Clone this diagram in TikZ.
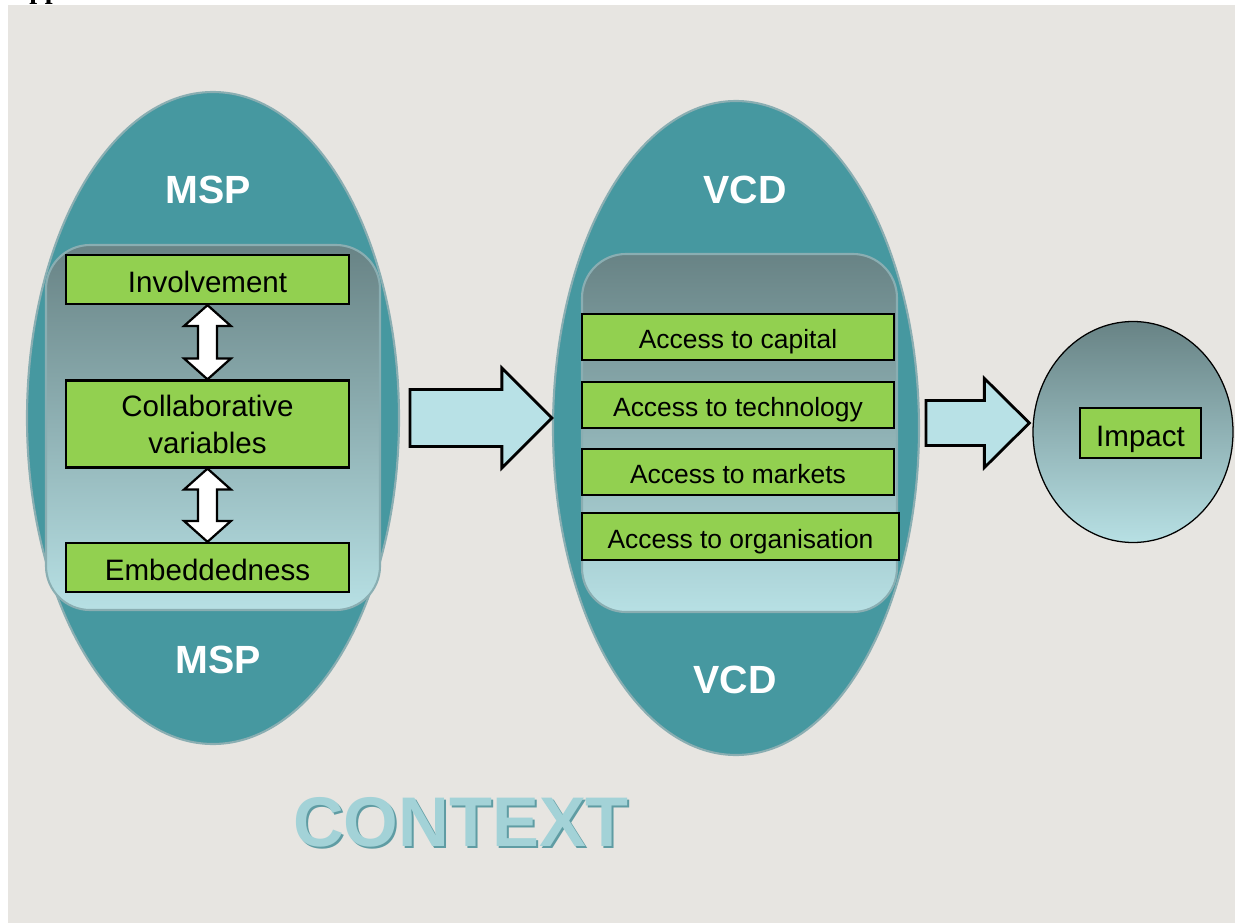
\documentclass[tikz,border=0pt]{standalone}
\usepackage{fontspec}
\setmainfont{Liberation Sans}
\newfontfamily\serifface{Liberation Serif}
\usetikzlibrary{shapes.geometric,calc}
\definecolor{bgc}{HTML}{E7E5E1}
\definecolor{tealc}{HTML}{4698A0}
\definecolor{tealedge}{HTML}{8AAEB2}
\definecolor{innertop}{HTML}{688385}
\definecolor{innerbot}{HTML}{B7E0E4}
\definecolor{boxgreen}{HTML}{92D050}
\definecolor{arrowfill}{HTML}{B8E1E6}
\definecolor{ctxc}{HTML}{A3D2D7}
\definecolor{ctxdark}{HTML}{5F9CA3}
\begin{document}
\begin{tikzpicture}[x=0.25mm,y=-0.25mm,
  outerell/.style={ellipse, draw=tealedge, line width=1.5pt, fill=tealc, inner sep=0pt},
  innerbox/.style={rectangle, rounded corners=11mm, draw=tealedge, line width=1.5pt,
     top color=innertop, bottom color=innerbot, inner sep=0pt},
  gbox/.style={rectangle, draw=black, line width=1.6pt, fill=boxgreen, inner sep=0pt, align=center},
  lefttxt/.style={font=\fontsize{21}{26.3}\selectfont},
  lowleft/.style={text height=19.5pt, text depth=1pt},
  righttxt/.style={font=\fontsize{18.8}{22}\selectfont},
  lowright/.style={text height=17.5pt, text depth=0.9pt},
  headtxt/.style={text=white, font=\fontsize{28}{32}\selectfont\bfseries},
  dbl/.style={draw=black, line width=1.6pt, fill=white, line join=miter},
  bigarrow/.style={draw=black, line width=2pt, fill=arrowfill, line join=miter}]
\clip (0,0) rectangle (1235,923);
\fill[white] (0,0) rectangle (1235,923);
\fill[bgc] (8,5) rectangle (1235,923);
\node[anchor=base west, font=\serifface\bfseries\fontsize{20}{24}\selectfont, inner sep=0pt] (pp) at (29,-1) {pp};

% MSP
\node[outerell, minimum width=93mm, minimum height=163mm] (msp) at (213,418) {};
\node[innerbox, minimum width=83.5mm, minimum height=91.25mm] (mspin) at (213,427.5) {};
\node[headtxt] (msptop) at (208,190) {MSP};
\node[headtxt] (mspbot) at (218,660) {MSP};
\node[gbox, lefttxt, lowleft, minimum width=70.75mm, minimum height=12.25mm] (inv) at (207.5,279.5) {Involvement};
\node[gbox, lefttxt, minimum width=70.75mm, minimum height=21.75mm] (col) at (207.5,424) {Collaborative\\variables};
\node[gbox, lefttxt, lowleft, minimum width=70.75mm, minimum height=12.25mm] (emb) at (207.5,567.5) {Embeddedness};

\draw[dbl] let \p1=(inv.south), \p2=(col.north) in
  (\x1,\y1) -- (\x1+16.7pt,\y1-14.9pt) -- (\x1+6.8pt,\y1-14.9pt) -- (\x1+6.8pt,\y2+14.9pt)
  -- (\x1+16.7pt,\y2+14.9pt) -- (\x1,\y2) -- (\x1-16.7pt,\y2+14.9pt) -- (\x1-6.8pt,\y2+14.9pt)
  -- (\x1-6.8pt,\y1-14.9pt) -- (\x1-16.7pt,\y1-14.9pt) -- cycle;
\draw[dbl] let \p1=(col.south), \p2=(emb.north) in
  (\x1,\y1) -- (\x1+16.7pt,\y1-14.9pt) -- (\x1+6.8pt,\y1-14.9pt) -- (\x1+6.8pt,\y2+14.9pt)
  -- (\x1+16.7pt,\y2+14.9pt) -- (\x1,\y2) -- (\x1-16.7pt,\y2+14.9pt) -- (\x1-6.8pt,\y2+14.9pt)
  -- (\x1-6.8pt,\y1-14.9pt) -- (\x1-16.7pt,\y1-14.9pt) -- cycle;

% VCD
\node[outerell, minimum width=91.5mm, minimum height=163.5mm] (vcd) at (736,428) {};
\node[innerbox, minimum width=78.75mm, minimum height=89.5mm] (vcdin) at (739.5,433) {};
\node[headtxt] (vcdtop) at (745,190) {VCD};
\node[headtxt] (vcdbot) at (735,680) {VCD};
\node[gbox, righttxt, lowright, minimum width=78mm, minimum height=11.5mm] (cap) at (738,337) {Access to capital};
\node[gbox, righttxt, lowright, minimum width=78mm, minimum height=11.5mm] (tec) at (738,405) {Access to technology};
\node[gbox, righttxt, lowright, minimum width=78mm, minimum height=11.5mm] (mkt) at (738,472) {Access to markets};
\node[gbox, righttxt, lowright, minimum width=79.25mm, minimum height=11.75mm] (org) at (740.5,536.5) {Access to organisation};

% Impact
\node[ellipse, draw=black, line width=0.9pt, top color=innertop, bottom color=innerbot,
  minimum width=50mm, minimum height=55.25mm, inner sep=0pt] (imp) at (1133,432) {};
\node[gbox, lowleft, font=\fontsize{21}{25}\selectfont, minimum width=30.25mm, minimum height=12.5mm] (impbox) at (1140.5,433) {Impact};

% big arrows
\coordinate (a1s) at ($(msp.east)+(10,0)$);
\draw[bigarrow] let \p1=(a1s), \p2=(msp.east -| vcd.west) in
  (\x1,\y2+20.3pt) -- (\x2-35.6pt,\y2+20.3pt) -- (\x2-35.6pt,\y2+35.6pt) -- (\x2,\y2)
  -- (\x2-35.6pt,\y2-35.6pt) -- (\x2-35.6pt,\y2-20.3pt) -- (\x1,\y2-20.3pt) -- cycle;
\coordinate (a2s) at (926,423);
\draw[bigarrow] let \p1=(a2s), \p2=($(a2s -| imp.west)+(-3,0)$) in
  (\x1,\y2+16pt) -- (\x2-32pt,\y2+16pt) -- (\x2-32pt,\y2+31.7pt) -- (\x2,\y2)
  -- (\x2-32pt,\y2-31.7pt) -- (\x2-32pt,\y2-16pt) -- (\x1,\y2-16pt) -- cycle;

% CONTEXT
\node[font=\fontsize{50}{50}\selectfont\bfseries, text=ctxdark] (ctxshadow) at (463,824) {CONTEXT};
\node[font=\fontsize{50}{50}\selectfont\bfseries, text=ctxc] (ctx) at (461,822) {CONTEXT};
\end{tikzpicture}
\end{document}
